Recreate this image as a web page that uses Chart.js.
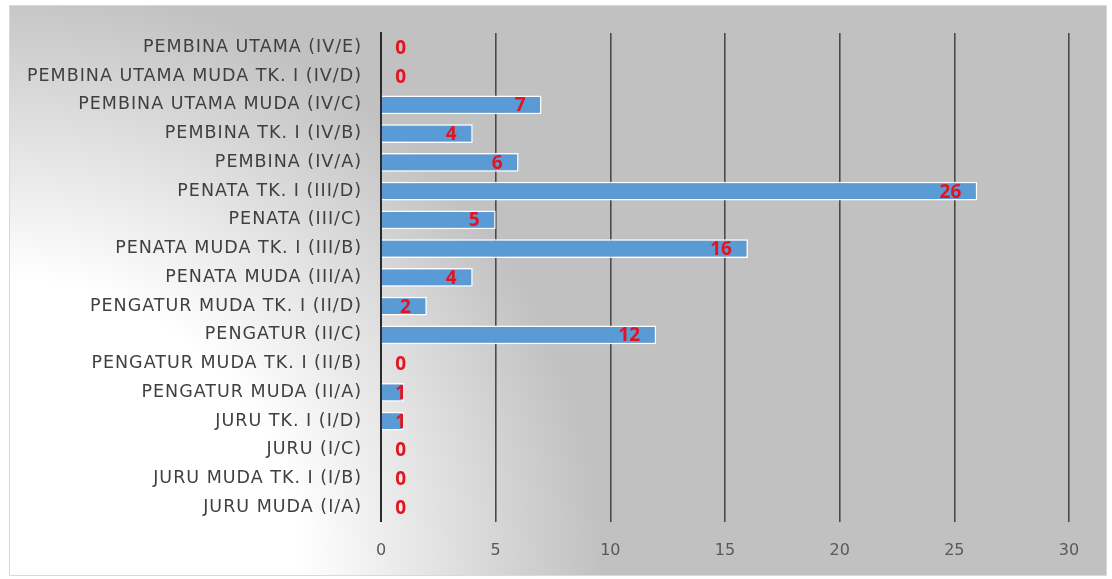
<!DOCTYPE html>
<html>
<head>
<meta charset="utf-8">
<script src="https://cdn.jsdelivr.net/npm/chart.js@4/dist/chart.umd.min.js"></script>
<style>
  html, body { margin: 0; padding: 0; background: #fff; }
  #wrap { width: 1112px; height: 579px; }
</style>
</head>
<body>
<div id="wrap"><canvas id="barChart" width="1112" height="579"></canvas></div>
<script>
// golongan / pangkat, dari atas ke bawah
const golongan = [
  'PEMBINA UTAMA (IV/E)',
  'PEMBINA UTAMA MUDA TK. I (IV/D)',
  'PEMBINA UTAMA MUDA (IV/C)',
  'PEMBINA TK. I (IV/B)',
  'PEMBINA (IV/A)',
  'PENATA TK. I (III/D)',
  'PENATA (III/C)',
  'PENATA MUDA TK. I (III/B)',
  'PENATA MUDA (III/A)',
  'PENGATUR MUDA TK. I (II/D)',
  'PENGATUR (II/C)',
  'PENGATUR MUDA TK. I (II/B)',
  'PENGATUR MUDA (II/A)',
  'JURU TK. I (I/D)',
  'JURU (I/C)',
  'JURU MUDA TK. I (I/B)',
  'JURU MUDA (I/A)'
];
const jumlah = [0, 0, 7, 4, 6, 26, 5, 16, 4, 2, 12, 0, 1, 1, 0, 0, 0];
const xTicks = [0, 5, 10, 15, 20, 25, 30];

// latar gradasi + bingkai
const bgPlugin = {
  id: 'bg',
  beforeDraw(chart) {
    const c = chart.ctx;
    c.save();
    const g = c.createRadialGradient(0, 579, 300, 0, 579, 600);
    g.addColorStop(0, '#ffffff');
    g.addColorStop(1, '#c1c1c1');
    c.fillStyle = g;
    c.fillRect(9, 5, 1098, 571);
    c.strokeStyle = '#d9d9d9';
    c.lineWidth = 1;
    c.strokeRect(9.5, 5.5, 1097, 570);
    c.restore();
    // huruf label kategori sedikit direnggangkan
    c.letterSpacing = '1px';
  },
  beforeDatasetsDraw(chart) {
    chart.ctx.letterSpacing = '0px';
  }
};

// label angka merah di ujung batang
const labelPlugin = {
  id: 'nilai',
  afterDatasetsDraw(chart) {
    const c = chart.ctx;
    const xs = chart.scales.x;
    const meta = chart.getDatasetMeta(0);
    c.save();
    c.font = 'bold 19px "Open Sans", sans-serif';
    c.fillStyle = '#e3141f';
    c.textAlign = 'right';
    c.textBaseline = 'middle';
    meta.data.forEach((bar, i) => {
      const x = Math.max(bar.x - 16, xs.getPixelForValue(0) + 25);
      c.fillText(String(jumlah[i]), x, bar.y + 1);
    });
    c.restore();
  }
};

const ctx = document.getElementById('barChart').getContext('2d');
new Chart(ctx, {
  type: 'bar',
  data: {
    labels: golongan,
    datasets: [{
      data: jumlah,
      backgroundColor: '#5b9bd5',
      borderColor: '#ffffff',
      borderWidth: 1.5,
      barPercentage: 0.65,
      categoryPercentage: 1
    }]
  },
  options: {
    indexAxis: 'y',
    responsive: false,
    animation: false,
    layout: { padding: { left: 0, right: 43, top: 33, bottom: 0 } },
    plugins: { legend: { display: false }, tooltip: { enabled: false } },
    scales: {
      x: {
        min: 0,
        max: 30,
        afterBuildTicks(scale) { scale.ticks = xTicks.map(v => ({ value: v })); },
        grid: { color: '#4a4a4a', lineWidth: 1.6, drawTicks: false, z: -1 },
        border: { display: false },
        ticks: { z: 1, color: '#595959', padding: 19, font: { family: 'DejaVu Sans', size: 16 } }
      },
      y: {
        afterFit(scale) { scale.width = 381; },
        grid: { display: false, drawTicks: false },
        border: { color: '#2b2b2b', width: 2 },
        ticks: { color: '#404040', padding: 19, autoSkip: false, font: { family: 'DejaVu Sans', size: 17.5 } }
      }
    }
  },
  plugins: [bgPlugin, labelPlugin]
});
</script>
</body>
</html>
